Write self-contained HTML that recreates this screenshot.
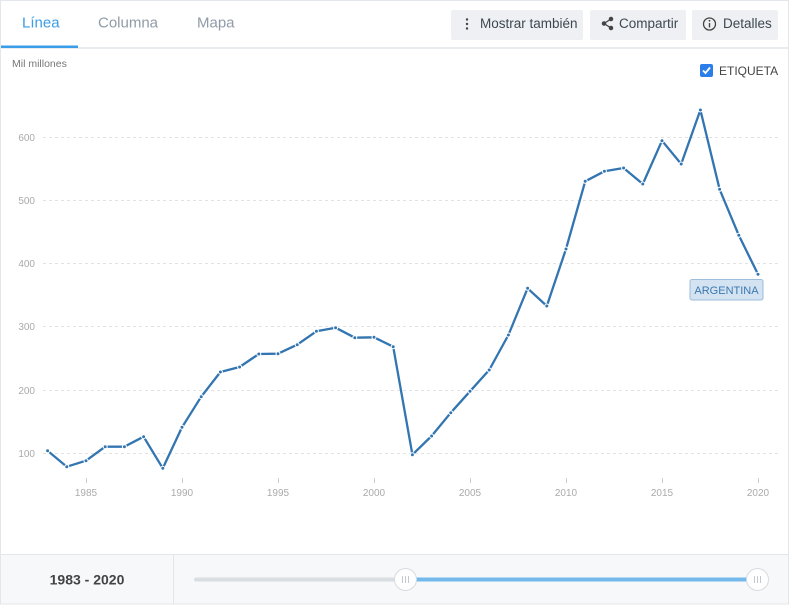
<!DOCTYPE html>
<html><head><meta charset="utf-8"><style>
html,body{margin:0;padding:0;background:#fff;}
body{width:790px;height:606px;overflow:hidden;font-family:"Liberation Sans",sans-serif;}
svg{display:block}
</style></head><body>
<svg width="790" height="606" viewBox="0 0 790 606" xmlns="http://www.w3.org/2000/svg" font-family="Liberation Sans, sans-serif">
<rect x="0" y="0" width="790" height="606" fill="#fff"/>
<!-- widget borders -->
<line x1="0.5" y1="0" x2="0.5" y2="604" stroke="#e3e7eb" stroke-width="1"/>
<line x1="0" y1="0.5" x2="789" y2="0.5" stroke="#e3e7eb" stroke-width="1"/>
<line x1="788.5" y1="0" x2="788.5" y2="604" stroke="#e3e7eb" stroke-width="1"/>
<!-- header -->
<line x1="0" y1="48" x2="789" y2="48" stroke="#e3e7eb" stroke-width="1.5"/>
<rect x="1" y="45.5" width="77" height="2.5" fill="#3a9de8"/>
<text x="22" y="27.5" font-size="15" fill="#3a9de8">Línea</text>
<text x="98" y="27.5" font-size="15" fill="#8f9ba7">Columna</text>
<text x="197" y="27.5" font-size="15" fill="#8f9ba7">Mapa</text>
<!-- buttons -->
<rect x="451" y="10" width="132" height="30" rx="2" fill="#eef0f3"/>
<circle cx="467" cy="19.5" r="1.2" fill="#444"/>
<circle cx="467" cy="24" r="1.2" fill="#444"/>
<circle cx="467" cy="28.5" r="1.2" fill="#444"/>
<text x="480" y="28" font-size="13.5" fill="#3d4852">Mostrar también</text>
<rect x="590" y="10" width="96" height="30" rx="2" fill="#eef0f3"/>
<g fill="#444" stroke="#444" stroke-width="1.3">
<line x1="611" y1="19" x2="604" y2="23.5"/><line x1="604" y1="23.5" x2="611" y2="28"/>
<circle cx="611" cy="19" r="1.6"/><circle cx="604" cy="23.5" r="1.6"/><circle cx="611" cy="28" r="1.6"/>
</g>
<text x="619" y="28" font-size="13.5" fill="#3d4852">Compartir</text>
<rect x="692" y="10" width="86" height="30" rx="2" fill="#eef0f3"/>
<circle cx="709.5" cy="24" r="6" fill="none" stroke="#444" stroke-width="1.3"/>
<circle cx="709.5" cy="20.8" r="0.9" fill="#444"/>
<line x1="709.5" y1="23" x2="709.5" y2="27.5" stroke="#444" stroke-width="1.4"/>
<text x="723" y="28" font-size="13.5" fill="#3d4852">Detalles</text>
<!-- unit -->
<text x="12" y="67" font-size="10.5" fill="#777">Mil millones</text>
<!-- checkbox -->
<rect x="700" y="64" width="13" height="13" rx="2" fill="#2b7de9"/>
<path d="M703 70.5 L705.5 73 L710 67.5" fill="none" stroke="#fff" stroke-width="1.8"/>
<text x="719" y="75" font-size="12" fill="#444">ETIQUETA</text>
<!-- gridlines -->
<g stroke="#e2e2e2" stroke-width="1" stroke-dasharray="3,3">
<line x1="43" y1="137.5" x2="778" y2="137.5"/>
<line x1="43" y1="200.5" x2="778" y2="200.5"/>
<line x1="43" y1="263.5" x2="778" y2="263.5"/>
<line x1="43" y1="326.5" x2="778" y2="326.5"/>
<line x1="43" y1="390.5" x2="778" y2="390.5"/>
<line x1="43" y1="453.5" x2="778" y2="453.5"/>
</g>
<g font-size="10" fill="#aaa" text-anchor="end">
<text x="35" y="141">600</text>
<text x="35" y="204">500</text>
<text x="35" y="267">400</text>
<text x="35" y="330">300</text>
<text x="35" y="394">200</text>
<text x="35" y="457">100</text>
</g>
<!-- x ticks -->
<g stroke="#ccc" stroke-width="1">
<line x1="86.5" y1="478" x2="86.5" y2="483"/>
<line x1="182.5" y1="478" x2="182.5" y2="483"/>
<line x1="278.5" y1="478" x2="278.5" y2="483"/>
<line x1="374.5" y1="478" x2="374.5" y2="483"/>
<line x1="470.5" y1="478" x2="470.5" y2="483"/>
<line x1="566.5" y1="478" x2="566.5" y2="483"/>
<line x1="662.5" y1="478" x2="662.5" y2="483"/>
<line x1="758.5" y1="478" x2="758.5" y2="483"/>
</g>
<g font-size="10" fill="#aaa" text-anchor="middle">
<text x="86" y="496">1985</text>
<text x="182" y="496">1990</text>
<text x="278" y="496">1995</text>
<text x="374" y="496">2000</text>
<text x="470" y="496">2005</text>
<text x="566" y="496">2010</text>
<text x="662" y="496">2015</text>
<text x="758" y="496">2020</text>
</g>
<!-- series -->
<polyline fill="none" stroke="#3375b1" stroke-width="2.3" stroke-linejoin="round" points="47.6,450.7 66.8,466.7 86,460.7 105.2,446.7 124.4,446.7 143.6,436.7 162.8,468.3 182,427.3 201.2,396.7 220.4,372 239.6,367 258.8,354 278,353.7 297.2,344.7 316.4,331.3 335.6,327.7 354.8,337.7 374,337.3 393.2,346.7 412.4,454.7 431.6,436 450.8,412.7 470,391.3 489.2,370 508.4,335 527.6,288.3 546.8,306 566,249 585.2,181.3 604.4,171.3 623.6,168 642.8,184 662,140.7 681.2,164 700.4,110 719.6,189.3 738.8,235.3 758,274.3"/>
<g fill="#3375b1" stroke="#fff" stroke-width="1">
<circle cx="47.6" cy="450.7" r="2"/><circle cx="66.8" cy="466.7" r="2"/><circle cx="86" cy="460.7" r="2"/><circle cx="105.2" cy="446.7" r="2"/><circle cx="124.4" cy="446.7" r="2"/><circle cx="143.6" cy="436.7" r="2"/><circle cx="162.8" cy="468.3" r="2"/><circle cx="182" cy="427.3" r="2"/><circle cx="201.2" cy="396.7" r="2"/><circle cx="220.4" cy="372" r="2"/><circle cx="239.6" cy="367" r="2"/><circle cx="258.8" cy="354" r="2"/><circle cx="278" cy="353.7" r="2"/><circle cx="297.2" cy="344.7" r="2"/><circle cx="316.4" cy="331.3" r="2"/><circle cx="335.6" cy="327.7" r="2"/><circle cx="354.8" cy="337.7" r="2"/><circle cx="374" cy="337.3" r="2"/><circle cx="393.2" cy="346.7" r="2"/><circle cx="412.4" cy="454.7" r="2"/><circle cx="431.6" cy="436" r="2"/><circle cx="450.8" cy="412.7" r="2"/><circle cx="470" cy="391.3" r="2"/><circle cx="489.2" cy="370" r="2"/><circle cx="508.4" cy="335" r="2"/><circle cx="527.6" cy="288.3" r="2"/><circle cx="546.8" cy="306" r="2"/><circle cx="566" cy="249" r="2"/><circle cx="585.2" cy="181.3" r="2"/><circle cx="604.4" cy="171.3" r="2"/><circle cx="623.6" cy="168" r="2"/><circle cx="642.8" cy="184" r="2"/><circle cx="662" cy="140.7" r="2"/><circle cx="681.2" cy="164" r="2"/><circle cx="700.4" cy="110" r="2"/><circle cx="719.6" cy="189.3" r="2"/><circle cx="738.8" cy="235.3" r="2"/><circle cx="758" cy="274.3" r="2"/>
</g>
<!-- label -->
<rect x="690" y="279.5" width="73" height="20.5" rx="2" fill="#d3e3f1" stroke="#9dbedb" stroke-width="1"/>
<text x="726.5" y="294" font-size="11" fill="#3d78b1" text-anchor="middle">ARGENTINA</text>
<!-- bottom panel -->
<rect x="0.5" y="554.5" width="788" height="49.5" fill="#f6f8fa" stroke="#e3e7eb" stroke-width="1"/>
<line x1="173.5" y1="555" x2="173.5" y2="604" stroke="#e3e7eb" stroke-width="1"/>
<text x="87" y="584.5" font-size="14" font-weight="bold" fill="#444" text-anchor="middle">1983 - 2020</text>
<line x1="196" y1="579.5" x2="405" y2="579.5" stroke="#d9dee3" stroke-width="4" stroke-linecap="round"/>
<line x1="405" y1="579.5" x2="758" y2="579.5" stroke="#74b9ec" stroke-width="4"/>
<circle cx="405.5" cy="579.5" r="11" fill="#fff" stroke="#d6dbe0" stroke-width="1"/>
<circle cx="757.5" cy="579.5" r="11" fill="#fff" stroke="#d6dbe0" stroke-width="1"/>
<g stroke="#c4c9ce" stroke-width="1">
<line x1="402.5" y1="576" x2="402.5" y2="583"/><line x1="405.5" y1="576" x2="405.5" y2="583"/><line x1="408.5" y1="576" x2="408.5" y2="583"/>
<line x1="754.5" y1="576" x2="754.5" y2="583"/><line x1="757.5" y1="576" x2="757.5" y2="583"/><line x1="760.5" y1="576" x2="760.5" y2="583"/>
</g>
</svg>
</body></html>
